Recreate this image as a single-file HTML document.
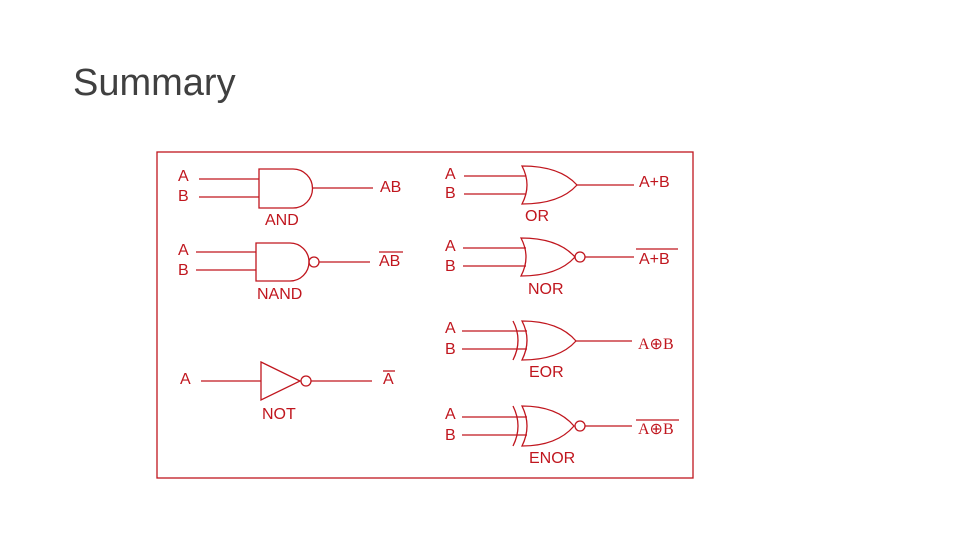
<!DOCTYPE html>
<html><head><meta charset="utf-8"><style>
html,body{margin:0;padding:0;background:#fff;}
svg{display:block}
</style></head><body>
<svg width="960" height="540" viewBox="0 0 960 540" xmlns="http://www.w3.org/2000/svg">
<text x="73" y="95" font-family="Liberation Sans, sans-serif" font-size="38" fill="#404040">Summary</text>
<g stroke="#c0161e" stroke-width="1.3" fill="none">
<rect x="157" y="152" width="536" height="326"/>
<!-- AND -->
<line x1="199" y1="179" x2="259" y2="179"/><line x1="199" y1="197" x2="259" y2="197"/>
<path d="M259 169 H293 A19.5 19.5 0 0 1 293 208 H259 Z"/>
<line x1="313" y1="188" x2="373" y2="188"/>
<!-- NAND -->
<line x1="196" y1="252" x2="256" y2="252"/><line x1="196" y1="270" x2="256" y2="270"/>
<path d="M256 243 H290 A19 19 0 0 1 290 281 H256 Z"/>
<circle cx="314" cy="262" r="5"/>
<line x1="319" y1="262" x2="370" y2="262"/>
<!-- NOT -->
<line x1="201" y1="381" x2="261" y2="381"/>
<path d="M261 362 L300 381 L261 400 Z"/>
<circle cx="306" cy="381" r="5"/>
<line x1="311" y1="381" x2="372" y2="381"/>
<!-- OR -->
<line x1="464" y1="176" x2="526" y2="176"/><line x1="464" y1="194" x2="526" y2="194"/>
<path d="M522 166 Q532 185 522 204 Q560 204 577 185 Q560 166 522 166 Z"/>
<line x1="577" y1="185" x2="634" y2="185"/>
<!-- NOR -->
<line x1="463" y1="248" x2="526" y2="248"/><line x1="463" y1="266" x2="526" y2="266"/>
<path d="M521 238 Q531 257 521 276 Q558 276 575 257 Q558 238 521 238 Z"/>
<circle cx="580" cy="257" r="5"/>
<line x1="585" y1="257" x2="634" y2="257"/>
<!-- EOR -->
<line x1="462" y1="331" x2="527" y2="331"/><line x1="462" y1="349" x2="527" y2="349"/>
<path d="M513 321 Q523 340 513 360"/>
<path d="M522 321 Q532 340 522 360 Q559 360 576 341 Q559 321 522 321 Z"/>
<line x1="576" y1="341" x2="632" y2="341"/>
<!-- ENOR -->
<line x1="462" y1="417" x2="527" y2="417"/><line x1="462" y1="435" x2="527" y2="435"/>
<path d="M513 406 Q523 426 513 446"/>
<path d="M522 406 Q532 426 522 446 Q557 446 574 426 Q557 406 522 406 Z"/>
<circle cx="580" cy="426" r="5"/>
<line x1="585" y1="426" x2="632" y2="426"/>
<!-- overlines -->
<line x1="379" y1="252" x2="403" y2="252"/>
<line x1="636" y1="249" x2="678" y2="249"/>
<line x1="636" y1="420" x2="679" y2="420"/>
<line x1="383" y1="371" x2="395" y2="371"/>
</g>
<g font-family="Liberation Sans, sans-serif" font-size="16" fill="#c0161e">
<text x="178" y="181">A</text><text x="178" y="201">B</text>
<text x="380" y="192">AB</text><text x="265" y="225">AND</text>
<text x="178" y="255">A</text><text x="178" y="275">B</text>
<text x="379" y="266">AB</text><text x="257" y="299">NAND</text>
<text x="180" y="384">A</text><text x="383" y="384">A</text><text x="262" y="419">NOT</text>
<text x="445" y="179">A</text><text x="445" y="198">B</text>
<text x="639" y="187">A+B</text><text x="525" y="221">OR</text>
<text x="445" y="251">A</text><text x="445" y="271">B</text>
<text x="639" y="264">A+B</text><text x="528" y="294">NOR</text>
<text x="445" y="333">A</text><text x="445" y="354">B</text>
<text x="638" y="349" font-family="Liberation Serif, serif">A⊕B</text><text x="529" y="377">EOR</text>
<text x="445" y="419">A</text><text x="445" y="440">B</text>
<text x="638" y="434" font-family="Liberation Serif, serif">A⊕B</text><text x="529" y="463">ENOR</text>
</g>
</svg>
</body></html>
